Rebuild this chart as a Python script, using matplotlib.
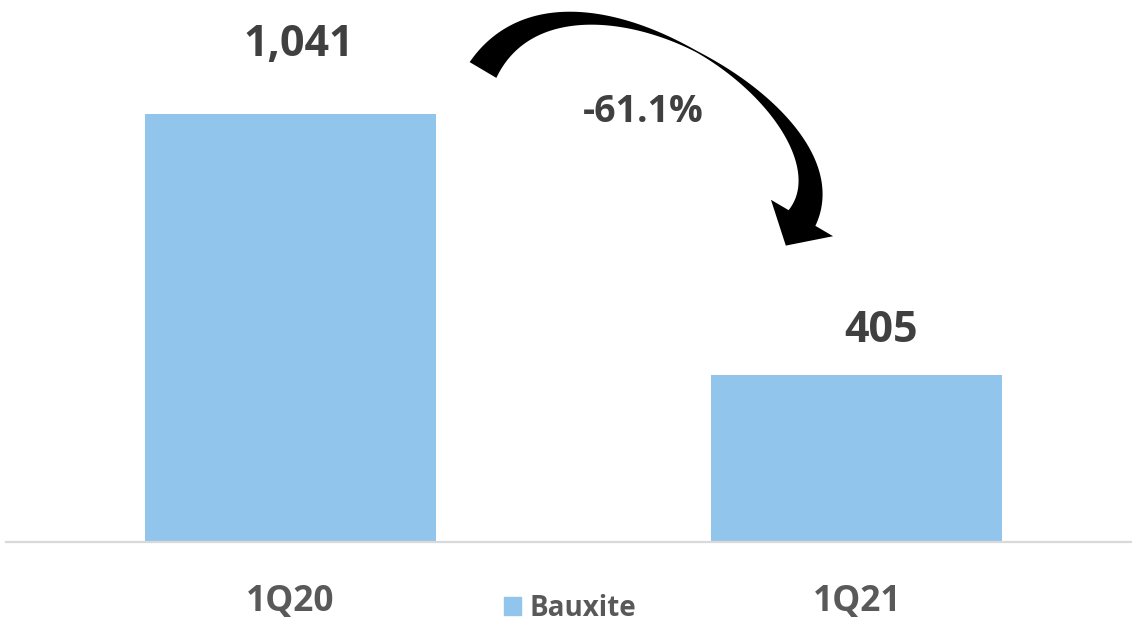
import matplotlib.pyplot as plt
import numpy as np
from matplotlib.patches import Patch, Polygon

# Bauxite volumes by quarter
quarters = ["1Q20", "1Q21"]
bauxite = [1041, 405]
series_name = "Bauxite"

BAR_COLOR = "#92C5EC"
VALUE_COLOR = "#404040"
LABEL_COLOR = "#595959"
FONT = ["Open Sans", "DejaVu Sans"]

W, H = 1132, 626
fig = plt.figure(figsize=(W / 100, H / 100), dpi=100)
ax = fig.add_axes([6 / W, 84 / H, 1126 / W, 542 / H])

x = np.arange(len(quarters))
ax.bar(x, bauxite, width=0.514, color=BAR_COLOR, label=series_name)
ax.set_xlim(-0.502, 1.486)
ax.set_ylim(0, 1318)

for s in ("top", "left", "right"):
    ax.spines[s].set_visible(False)
ax.spines["bottom"].set_color("#D9D9D9")
ax.spines["bottom"].set_linewidth(1.6)
ax.set_yticks([])
ax.set_xticks(x, quarters)
ax.tick_params(axis="x", length=0, pad=30)
for lbl in ax.get_xticklabels():
    lbl.set_fontfamily(FONT)
    lbl.set_fontweight("bold")
    lbl.set_fontsize(25.5)
    lbl.set_color(LABEL_COLOR)

# value labels (nudged a bit, as laid out on the slide)
offsets = [(8, 48), (24, 23)]
for xi, v, (dx, dy) in zip(x, bauxite, offsets):
    ax.annotate(f"{v:,}", (xi, v), xytext=(dx * 0.72, dy * 0.72),
                textcoords="offset points", ha="center", va="bottom",
                fontsize=31, fontweight="bold", color=VALUE_COLOR, family=FONT)

change = (bauxite[1] - bauxite[0]) / bauxite[0] * 100
fig.text(643 / W, 1 - 112 / H, f"{change:.1f}%", ha="center", va="center",
         fontsize=27, fontweight="bold", color=VALUE_COLOR, family=FONT)


# curved arrow: cubic bezier centreline with a pinched middle, in pixel coords
def bezier(p, t):
    t = t[:, None]
    b = ((1 - t) ** 3 * p[0] + 3 * (1 - t) ** 2 * t * p[1]
         + 3 * (1 - t) * t ** 2 * p[2] + t ** 3 * p[3])
    d = (3 * (1 - t) ** 2 * (p[1] - p[0]) + 6 * (1 - t) * t * (p[2] - p[1])
         + 3 * t ** 2 * (p[3] - p[2]))
    return b, d / np.linalg.norm(d, axis=1, keepdims=True)


ctrl = np.array([[483, 70], [567, -72], [863, 114], [802, 218]], float)
t = np.linspace(0, 1, 160)
pts, tan = bezier(ctrl, t)
nrm = np.column_stack([-tan[:, 1], tan[:, 0]])
half = (1.5 + 29.5 * np.abs(2 * t - 1) ** 1.3) / 2
side_a = pts + nrm * half[:, None]
side_b = pts - nrm * half[:, None]
end, d_end, n_end = pts[-1], tan[-1], nrm[-1]
head = np.array([end + n_end * 36, end + d_end * 32, end - n_end * 36])
outline = np.vstack([side_a, head, side_b[::-1]])
outline = np.column_stack([outline[:, 0] / W, 1 - outline[:, 1] / H])
fig.add_artist(Polygon(outline, closed=True, facecolor="black", edgecolor="none",
                       transform=fig.transFigure))

fig.legend(handles=[Patch(color=BAR_COLOR, label=series_name)],
           loc="center", bbox_to_anchor=(570 / W, 1 - 608 / H), frameon=False,
           handlelength=0.6, handleheight=0.6, handletextpad=0.3,
           prop={"family": FONT, "weight": "bold", "size": 20},
           labelcolor=LABEL_COLOR)

fig.savefig("out.png", dpi=100, facecolor="white")
